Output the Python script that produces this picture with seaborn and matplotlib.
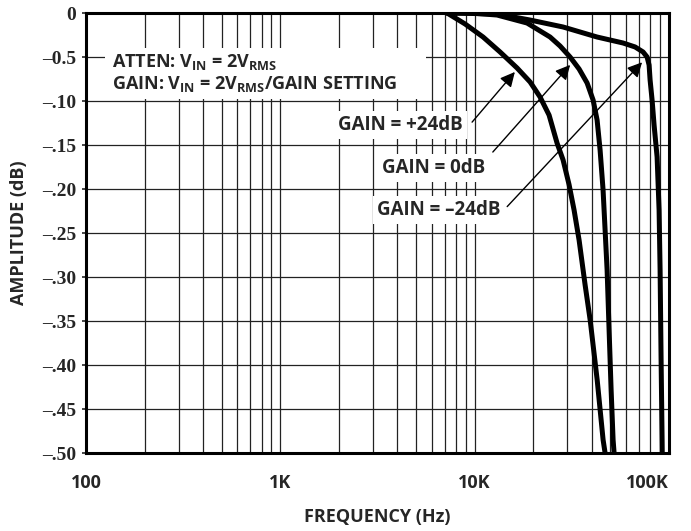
import numpy as np
import pandas as pd
import matplotlib
matplotlib.use('Agg')
import matplotlib.pyplot as plt
import seaborn as sns
from matplotlib.patches import Rectangle

# curve data (frequency in Hz, amplitude in dB)
freq_p24 = [7210, 8930, 11050, 13510, 16530, 19290, 21710, 24150, 26560, 28510,
            30600, 32480, 34460, 37010, 39300, 42700, 45800, 46900]
amp_p24 = [0, -0.0125, -0.0273, -0.0443, -0.0625, -0.0784, -0.0955, -0.116, -0.148, -0.167,
           -0.195, -0.224, -0.258, -0.309, -0.349, -0.417, -0.485, -0.50]

freq_0 = [7210, 9470, 13040, 18610, 24440, 27510, 30970, 34460, 37890, 40690,
          42660, 44200, 45790, 46900, 48030, 49170, 50360, 51560, 52180]
amp_0 = [0, 0, -0.0023, -0.0114, -0.0273, -0.0375, -0.050, -0.0636, -0.0795, -0.0989,
         -0.1216, -0.1557, -0.2011, -0.2466, -0.292, -0.360, -0.428, -0.485, -0.50]

freq_m24 = [7210, 13040, 19290, 28510, 42660, 58040, 66920, 73560, 77140, 78990,
            79930, 81850, 83800, 86850, 88920, 89990, 91060, 92150, 92300]
amp_m24 = [0, -0.0011, -0.008, -0.0159, -0.0273, -0.0341, -0.0386, -0.0443, -0.050, -0.0591,
           -0.0761, -0.0989, -0.1273, -0.1636, -0.2239, -0.292, -0.3943, -0.4852, -0.50]

series_names = ['GAIN = +24dB', 'GAIN = 0dB', 'GAIN = –24dB']

x_ticks = [100, 1000, 10000, 100000]
x_tick_labels = ['100', '1K', '10K', '100K']
y_ticks = [0, -0.05, -0.10, -0.15, -0.20, -0.25, -0.30, -0.35, -0.40, -0.45, -0.50]
y_tick_labels = ['0', '–0.5', '–.10', '–.15', '–.20', '–.25', '–.30', '–.35', '–.40', '–.45', '–.50']

df = pd.concat([
    pd.DataFrame({'freq': freq_p24, 'amp': amp_p24, 'gain': series_names[0]}),
    pd.DataFrame({'freq': freq_0, 'amp': amp_0, 'gain': series_names[1]}),
    pd.DataFrame({'freq': freq_m24, 'amp': amp_m24, 'gain': series_names[2]}),
])

sns.set_style('white')
plt.rcParams['font.family'] = ['Open Sans', 'DejaVu Sans']
plt.rcParams['mathtext.fontset'] = 'custom'
plt.rcParams['mathtext.rm'] = 'Open Sans:bold'
plt.rcParams['mathtext.bf'] = 'Open Sans:bold'
plt.rcParams['mathtext.it'] = 'Open Sans:bold'

fig, ax = plt.subplots(figsize=(6.91, 5.31), dpi=100)
fig.subplots_adjust(left=86/691, right=669/691, top=1-13/531, bottom=1-453/531)

sns.lineplot(data=df, x='freq', y='amp', hue='gain',
             palette=['black'] * 3, estimator=None, sort=False,
             linewidth=3.6, legend=False, ax=ax, zorder=5)

ax.set_xscale('log')
ax.set_xlim(100, 100000)
ax.set_ylim(-0.5, 0)

# grid lines
ax.grid(True, which='both', axis='x', color='#222222', linewidth=0.9)
ax.grid(True, which='major', axis='y', color='#222222', linewidth=0.9)
ax.set_axisbelow(True)

ax.set_xticks(x_ticks)
ax.set_xticklabels(x_tick_labels, fontsize=13, fontweight='bold')
ax.get_xticklabels()[-1].set_ha('right')
ax.set_yticks(y_ticks)
ax.set_yticklabels(y_tick_labels, fontsize=14, fontweight='bold',
                   family=['Liberation Serif'])
ax.tick_params(axis='x', which='both', length=0, pad=15)
ax.tick_params(axis='y', length=3, width=1.2, pad=4, direction='out', left=True)

ax.set_xlabel('FREQUENCY (Hz)', fontsize=13, fontweight='bold', va='center')
ax.set_ylabel('AMPLITUDE (dB)', fontsize=13, fontweight='bold', va='center')
ax.xaxis.set_label_coords(0.5, (453 - 517) / 440)
ax.yaxis.set_label_coords((19 - 86) / 583, 0.5)

for spine in ax.spines.values():
    spine.set_visible(True)
    spine.set_color('black')
    spine.set_linewidth(2.2)

box = dict(facecolor='white', edgecolor='none', pad=3)

# condition note on a white panel
ax.add_patch(Rectangle((0.033, 0.805), 0.55, 0.115, transform=ax.transAxes,
                       facecolor='white', edgecolor='none', zorder=3))
note_lines = ['ATTEN: V$_{\\mathrm{IN}}$ = 2V$_{\\mathrm{RMS}}$',
              'GAIN: V$_{\\mathrm{IN}}$ = 2V$_{\\mathrm{RMS}}$/GAIN SETTING']
for line, ty in zip(note_lines, [0.889, 0.838]):
    ax.text(0.044, ty, line, transform=ax.transAxes, fontsize=13,
            fontweight='bold', ha='left', va='center', zorder=4)

# gain labels with arrows
label_pos = [(0.539, 0.745), (0.597, 0.648), (0.605, 0.552)]
arrow_tail = [(9700, -0.124), (12400, -0.158), (14700, -0.220)]
arrow_tip = [(16100, -0.067), (31000, -0.059), (72700, -0.056)]

for name, (tx, ty) in zip(series_names, label_pos):
    ax.text(tx, ty, name, transform=ax.transAxes, fontsize=13.5,
            fontweight='bold', ha='center', va='center', bbox=box, zorder=4)

for tail, tip in zip(arrow_tail, arrow_tip):
    ax.annotate('', xy=tip, xytext=tail,
                arrowprops=dict(arrowstyle='-|>', color='black', lw=1.0,
                                mutation_scale=22, shrinkA=0, shrinkB=0),
                zorder=6)

plt.savefig('out.png', dpi=100, facecolor='white')
